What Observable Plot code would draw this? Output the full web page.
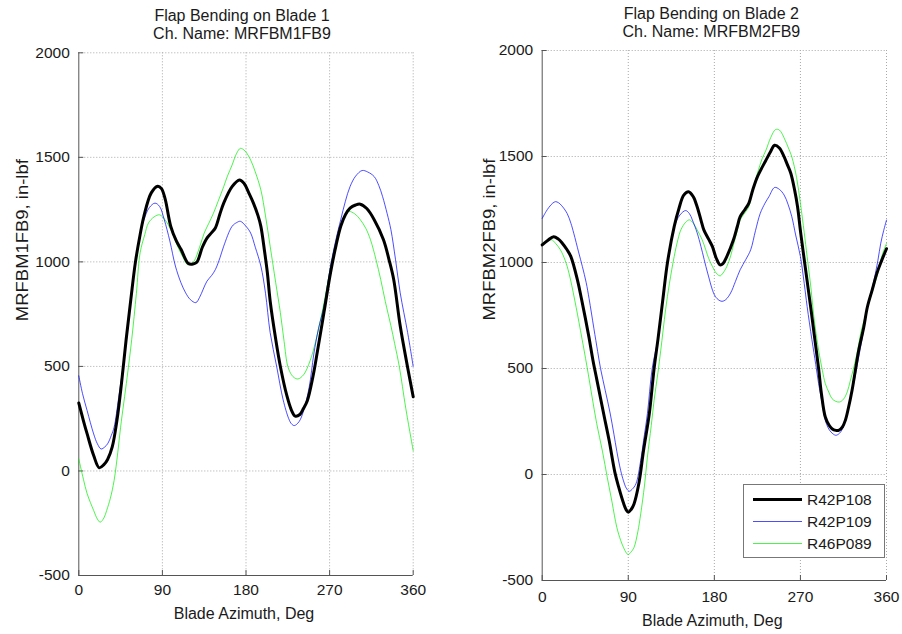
<!DOCTYPE html>
<html><head><meta charset="utf-8">
<script src="https://cdn.jsdelivr.net/npm/d3@7"></script>
<script src="https://cdn.jsdelivr.net/npm/@observablehq/plot@0.6"></script>
<style>
body{margin:0;background:#fff;}
#wrap{position:relative;width:902px;height:634px;overflow:hidden;font-family:"Liberation Sans",Arial,sans-serif;}
#wrap > svg, #wrap > div{position:absolute;top:0;}
</style></head><body><div id="wrap"></div>
<script>
// ---- data ----
const xTicks = [0, 90, 180, 270, 360];
const yTicks = [-500, 0, 500, 1000, 1500, 2000];
const seriesNames = ["R42P108", "R42P109", "R46P089"];
const seriesColors = ["#000000", "#0000ff", "#00ee00"];

// Blade 1  [azimuth deg, in-lbf]
const blade1_R42P108 = [[0,325],[5,240],[9,177],[16,74],[22,15],[27,30],[31,55],[36,115],[41,240],[46,420],[51,630],[56,820],[61,1000],[66,1130],[70,1217],[78,1330],[85,1362],[89,1350],[93,1300],[99,1170],[105,1100],[110,1060],[118,992],[123,990],[127,998],[133,1070],[138,1114],[143,1140],[147,1162],[152,1230],[156,1281],[165,1360],[173,1392],[178,1375],[183,1330],[188,1281],[193,1220],[196,1170],[200,1050],[203,948],[206,813],[212,630],[217,500],[224,360],[229,290],[233,262],[238,270],[242,300],[246,336],[252,450],[257,575],[264,760],[271,948],[277,1080],[282,1170],[287,1225],[292,1257],[298,1272],[303,1276],[310,1255],[318,1202],[328,1106],[334,1010],[339,916],[346,694],[354,495],[360,355]];
const blade1_R42P109 = [[0,455],[4,370],[9,288],[16,177],[20,130],[24,105],[28,115],[31,130],[35,170],[38,209],[43,352],[48,511],[52,650],[56,820],[61,1000],[66,1130],[70,1200],[76,1260],[82,1281],[87,1265],[92,1202],[98,1100],[104,980],[110,900],[115,852],[120,820],[126,805],[130,830],[134,870],[138,908],[143,935],[147,963],[152,1020],[156,1075],[165,1170],[170,1188],[174,1194],[180,1170],[185,1138],[190,1070],[196,980],[201,850],[206,662],[213,500],[220,340],[226,250],[229,225],[232,217],[237,235],[242,288],[248,400],[253,559],[258,680],[264,789],[271,980],[277,1110],[282,1202],[287,1290],[292,1360],[298,1410],[305,1437],[311,1430],[318,1408],[323,1365],[327,1313],[332,1230],[336,1154],[341,1010],[346,852],[354,662],[360,500]];
const blade1_R46P089 = [[0,57],[5,-40],[9,-109],[16,-189],[20,-230],[23,-245],[27,-225],[30,-189],[34,-130],[38,-46],[42,90],[45,209],[52,447],[57,630],[62,850],[66,1043],[71,1130],[75,1186],[81,1215],[87,1225],[93,1200],[99,1154],[104,1100],[108,1059],[113,1015],[117,987],[120,990],[124,1003],[130,1070],[135,1138],[140,1185],[145,1233],[150,1290],[156,1360],[160,1410],[165,1463],[170,1520],[174,1543],[179,1530],[185,1487],[190,1430],[196,1344],[201,1220],[206,1075],[212,900],[217,757],[221,620],[225,500],[229,460],[232,446],[236,440],[242,460],[249,527],[255,620],[260,718],[264,805],[270,950],[275,1059],[280,1140],[284,1194],[288,1228],[291,1241],[297,1230],[303,1202],[309,1160],[314,1106],[320,1010],[325,916],[330,810],[336,694],[340,610],[345,500],[352,300],[360,97]];

// Blade 2
const blade2_R42P108 = [[0,1083],[6,1105],[12,1122],[17,1110],[21,1091],[26,1060],[30,1028],[37,915],[41,830],[45,740],[49,645],[53,540],[57,450],[61,360],[65,270],[70,160],[76,10],[80,-60],[85,-135],[88,-168],[90,-178],[93,-165],[96,-139],[101,-44],[106,114],[112,287],[117,500],[121,636],[126,820],[131,1000],[138,1169],[143,1255],[148,1318],[153,1334],[158,1310],[162,1263],[166,1200],[169,1154],[174,1110],[178,1075],[182,1020],[186,989],[189,995],[193,1028],[200,1107],[204,1170],[207,1216],[212,1250],[216,1279],[220,1340],[225,1404],[234,1483],[239,1525],[243,1553],[248,1540],[253,1498],[256,1465],[260,1420],[264,1340],[267,1263],[270,1150],[274,1013],[281,780],[285,640],[289,500],[292,380],[296,271],[300,232],[303,216],[307,208],[310,208],[314,225],[317,256],[320,310],[324,397],[331,587],[336,690],[340,790],[345,870],[350,950],[355,1010],[360,1065]];
const blade2_R42P109 = [[0,1208],[4,1240],[7,1260],[11,1280],[14,1287],[17,1282],[20,1270],[26,1232],[30,1185],[33,1138],[38,1050],[42,981],[46,905],[49,830],[54,690],[58,580],[61,500],[66,395],[71,290],[75,190],[78,110],[82,20],[85,-30],[88,-65],[91,-79],[94,-70],[98,-44],[103,66],[106,160],[110,287],[115,500],[121,640],[126,820],[131,1000],[135,1100],[138,1169],[144,1224],[150,1245],[154,1230],[157,1201],[162,1140],[166,1075],[173,950],[180,848],[184,825],[188,817],[192,825],[197,856],[202,910],[207,966],[213,1015],[218,1060],[223,1150],[228,1232],[233,1280],[237,1310],[243,1354],[248,1345],[253,1318],[257,1275],[261,1216],[265,1130],[270,1028],[274,900],[277,793],[282,636],[286,520],[289,429],[293,330],[296,256],[299,220],[302,200],[307,185],[311,195],[314,216],[318,270],[322,350],[327,460],[331,555],[336,680],[340,792],[344,860],[347,918],[351,1010],[354,1091],[357,1150],[360,1200]];
const blade2_R46P089 = [[0,1091],[5,1100],[10,1107],[14,1090],[19,1060],[24,1010],[28,950],[34,823],[40,680],[47,505],[52,370],[57,240],[63,110],[68,-13],[73,-130],[78,-249],[82,-310],[85,-344],[88,-370],[90,-378],[93,-365],[96,-344],[100,-270],[103,-186],[107,-50],[110,82],[114,230],[117,350],[121,480],[124,587],[129,776],[133,900],[138,1028],[142,1110],[145,1154],[150,1190],[154,1201],[158,1185],[162,1154],[167,1110],[171,1060],[174,1020],[178,981],[182,950],[186,937],[189,950],[193,981],[197,1030],[200,1083],[204,1150],[207,1201],[212,1235],[216,1263],[220,1340],[225,1420],[230,1490],[234,1530],[239,1590],[244,1627],[248,1625],[254,1577],[257,1545],[261,1498],[266,1400],[270,1279],[274,1140],[277,1028],[281,880],[284,746],[289,587],[293,490],[296,429],[300,385],[303,358],[307,345],[311,342],[315,355],[319,390],[322,440],[326,508],[330,590],[333,666],[337,735],[341,800],[347,890],[351,950],[354,1013],[357,1055],[360,1090]];

const blade1 = [blade1_R42P108, blade1_R42P109, blade1_R46P089];
const blade2 = [blade2_R42P108, blade2_R42P109, blade2_R46P089];

// ---- drawing ----
const FONT = '"Liberation Sans", Arial, Helvetica, sans-serif';
const FS = 15.5;   // tick labels, legend
const FL = 16;     // titles, axis labels
const TXT = "#1a1a1a";
const AX = "#555";
const GRID = "#a8a8a8";
const widths = [3, 0.7, 0.7];

function rows(series) {
  const out = [];
  series.forEach((s, i) => s.forEach(([a, v]) => out.push({az: a, val: v, name: seriesNames[i]})));
  return out;
}

function panel(o) {
  const W = 451, H = 634;
  const plotW = W - o.ml - o.mr, plotH = H - o.mt - o.mb;
  const data = rows(o.series);
  const lineMarks = [2, 1, 0].map(i => Plot.line(data.filter(d => d.name === seriesNames[i]), {
    x: "az", y: "val", stroke: seriesColors[i], strokeWidth: widths[i], curve: "catmull-rom", strokeLinejoin: "round"
  }));
  const svg = Plot.plot({
    width: W, height: H,
    marginLeft: o.ml, marginRight: o.mr, marginTop: o.mt, marginBottom: o.mb,
    x: {domain: [0, 360]}, y: {domain: [-500, 2000]},
    style: {fontFamily: FONT, fontSize: FS + "px", color: TXT, background: "transparent", overflow: "visible"},
    marks: [
      Plot.ruleX(xTicks.slice(1), {stroke: GRID, strokeDasharray: "1,2", strokeWidth: 1}),
      Plot.ruleY(yTicks.slice(1), {stroke: GRID, strokeDasharray: "1,2", strokeWidth: 1}),
      Plot.ruleX(xTicks, {stroke: AX, insetTop: plotH - 5}),
      Plot.ruleY(yTicks, {stroke: AX, insetRight: plotW - 5}),
      Plot.ruleX([0], {stroke: AX}),
      Plot.ruleY([-500], {stroke: AX}),
      Plot.axisX(xTicks, {tickSize: 0, tickPadding: o.xpad, label: null, fontSize: FS, fill: TXT, tickFormat: d => String(d)}),
      Plot.axisY(yTicks, {tickSize: 0, tickPadding: 9, label: null, fontSize: FS, fill: TXT, tickFormat: d => String(d)}),
      ...lineMarks,
      Plot.text([o.title1], {text: d => d, frameAnchor: "top", lineAnchor: "middle", dy: o.t1dy, dx: o.tdx, fontSize: FL, fill: TXT}),
      Plot.text([o.title2], {text: d => d, frameAnchor: "top", lineAnchor: "middle", dy: o.t2dy, dx: o.tdx, fontSize: FL, fill: TXT}),
      Plot.text(["Blade Azimuth, Deg"], {text: d => d, frameAnchor: "bottom", lineAnchor: "middle", dy: o.xldy, dx: -2, fontSize: FL, fill: TXT}),
      Plot.text([o.ylabel], {text: d => d, frameAnchor: "left", lineAnchor: "middle", rotate: -90, dx: o.yldx, dy: o.yldy, fontSize: FL, fill: TXT})
    ]
  });
  d3.select(svg).selectAll("text").filter(function () { return this.textContent === o.ylabel; })
    .attr("textLength", 162).attr("lengthAdjust", "spacingAndGlyphs");
  svg.style.left = o.left + "px";
  return svg;
}

const wrap = document.getElementById("wrap");
wrap.appendChild(panel({
  series: blade1, left: 0, ml: 78.3, mr: 38.3, mt: 52.3, mb: 59,
  xpad: 8, title1: "Flap Bending on Blade 1", title2: "Ch. Name: MRFBM1FB9",
  t1dy: -37.3, t2dy: -19.3, tdx: -4, xldy: 38,
  ylabel: "MRFBM1FB9, in-lbf", yldx: -56, yldy: 7
}));
wrap.appendChild(panel({
  series: blade2, left: 451, ml: 90.7, mr: 16, mt: 50, mb: 54,
  xpad: 10, title1: "Flap Bending on Blade 2", title2: "Ch. Name: MRFBM2FB9",
  t1dy: -36.7, t2dy: -18.3, tdx: -3, xldy: 40,
  ylabel: "MRFBM2FB9, in-lbf", yldx: -52, yldy: 5
}));

// legend (right panel, lower right)
const leg = d3.select(wrap).append("svg")
  .attr("width", 142).attr("height", 74)
  .style("left", "743px").style("top", "484px");
leg.append("rect").attr("x", 0.5).attr("y", 0.5).attr("width", 141).attr("height", 73)
  .attr("fill", "#fff").attr("stroke", "#777");
seriesNames.forEach((n, i) => {
  const y = 15.5 + i * 22;
  leg.append("line").attr("x1", 10).attr("x2", 59).attr("y1", y).attr("y2", y)
    .attr("stroke", seriesColors[i]).attr("stroke-width", widths[i]);
  leg.append("text").attr("x", 64).attr("y", y).attr("dy", "0.36em")
    .attr("font-family", FONT).attr("font-size", FS).attr("fill", TXT).text(n);
});
</script></body></html>
